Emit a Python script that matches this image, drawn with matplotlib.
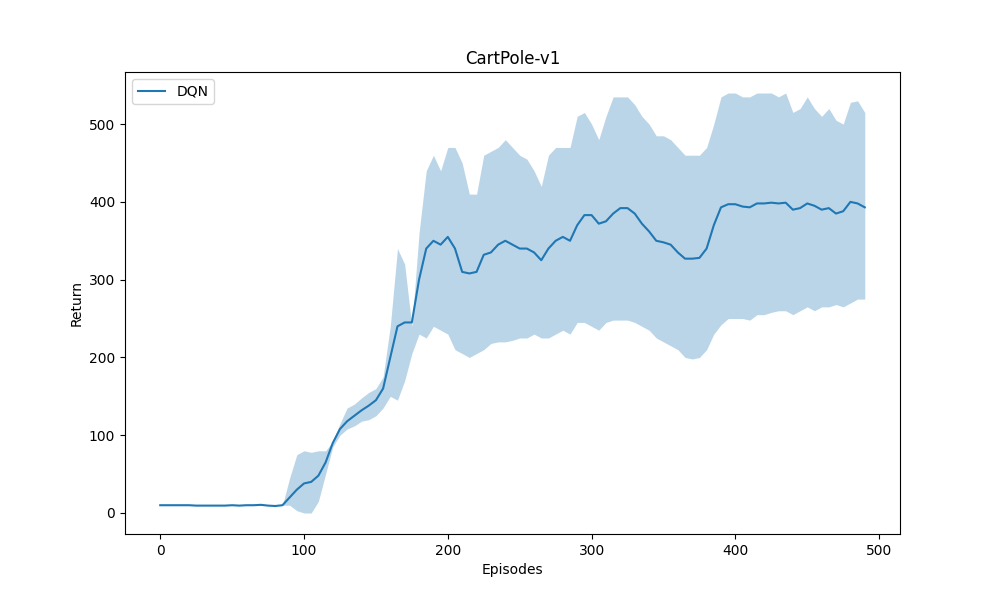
import matplotlib
matplotlib.use("Agg")
import matplotlib.pyplot as plt
import numpy as np

episodes = list(range(0, 495, 5))

mean_return = [10, 10, 10, 10, 10, 9.5, 9.5, 9.5, 9.5, 9.5, 10, 9.5, 10, 10, 10.5, 9.5, 9, 10,
               20, 30, 38, 40, 48, 65, 90, 108, 118, 125, 132, 138, 145, 160, 200, 240, 245,
               245, 300, 340, 350, 345, 355, 340, 310, 308, 310, 332, 335, 345, 350, 345, 340,
               340, 335, 325, 340, 350, 355, 350, 370, 383, 383, 372, 375, 385, 392, 392, 385,
               372, 362, 350, 348, 345, 335, 327, 327, 328, 340, 370, 393, 397, 397, 394, 393,
               398, 398, 399, 398, 399, 390, 392, 398, 395, 390, 392, 385, 388, 400, 398, 393]

upper_return = [10, 10, 10, 10, 10, 9.5, 9.5, 9.5, 9.5, 9.5, 10, 9.5, 10, 10, 10.5, 9.5, 9, 10,
                45, 75, 80, 78, 80, 80, 92, 115, 135, 140, 148, 155, 160, 175, 240, 340, 320, 240,
                360, 440, 460, 440, 470, 470, 450, 410, 410, 460, 465, 470, 480, 470, 460, 455,
                440, 420, 460, 470, 470, 470, 510, 515, 500, 480, 510, 535, 535, 535, 525, 510,
                500, 485, 485, 480, 470, 460, 460, 460, 470, 500, 535, 540, 540, 535, 535, 540,
                540, 540, 535, 540, 515, 520, 535, 520, 510, 520, 505, 500, 528, 530, 515]

lower_return = [10, 10, 10, 10, 10, 9.5, 9.5, 9.5, 9.5, 9.5, 10, 9.5, 10, 10, 10.5, 9.5, 9, 10,
                10, 3, 0, 0, 15, 50, 85, 100, 108, 112, 118, 120, 125, 135, 150, 145, 170, 205,
                230, 225, 240, 235, 230, 210, 205, 200, 205, 210, 218, 220, 220, 222, 225, 225,
                230, 225, 225, 230, 235, 230, 245, 245, 240, 235, 245, 248, 248, 248, 245, 240,
                235, 225, 220, 215, 210, 200, 198, 200, 210, 230, 242, 250, 250, 250, 248, 255,
                255, 258, 260, 260, 255, 260, 265, 260, 265, 265, 268, 265, 270, 275, 275]

x = np.array(episodes)
plt.figure(figsize=(10, 6))
plt.plot(x, mean_return, label="DQN", color="#1f77b4")
plt.fill_between(x, lower_return, upper_return, color="#1f77b4", alpha=0.3, linewidth=0)
plt.xlabel("Episodes")
plt.ylabel("Return")
plt.title("CartPole-v1")
plt.legend(loc="upper left")
plt.savefig("out.png", dpi=100)
